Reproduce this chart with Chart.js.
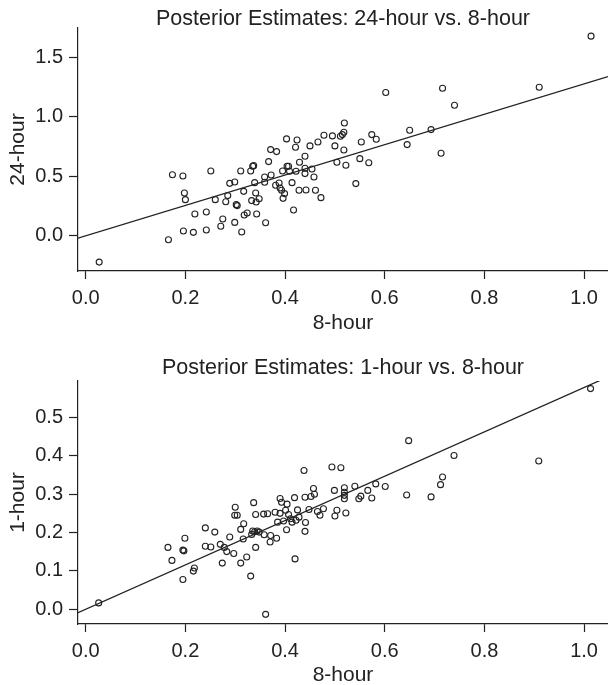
<!DOCTYPE html>
<html><head><meta charset="utf-8">
<script src="https://cdn.jsdelivr.net/npm/chart.js@4.4.1/dist/chart.umd.min.js"></script>
<style>
html,body{margin:0;padding:0;background:#fff;}
#wrap{position:relative;width:608px;height:685px;overflow:hidden;background:#fff;}
canvas{position:absolute;left:0;}
#c1{top:0;}
#c2{top:340px;}
</style></head><body>
<div id="wrap">
<canvas id="c1" width="608" height="345"></canvas>
<canvas id="c2" width="608" height="345"></canvas>
</div>
<script>
// ---- tick labels ----
const xTickValues = [0, 0.2, 0.4, 0.6, 0.8, 1.0];
const yTickValuesTop = [0, 0.5, 1.0, 1.5];
const yTickValuesBottom = [0, 0.1, 0.2, 0.3, 0.4, 0.5];

// ---- texts ----
const titleTop = 'Posterior Estimates: 24-hour vs. 8-hour';
const titleBottom = 'Posterior Estimates: 1-hour vs. 8-hour';
const xLabel = '8-hour';
const yLabelTop = '24-hour';
const yLabelBottom = '1-hour';

// ---- top panel: 8-hour (x) vs 24-hour (y) ----
const eightHourTop = [0.027,0.166,0.174,0.195,0.198,0.200,0.196,0.216,0.219,0.242,0.242,0.251,0.260,0.271,0.275,0.281,0.285,0.289,0.299,0.299,
0.302,0.304,0.311,0.313,0.317,0.318,0.324,0.331,0.335,0.337,0.333,0.341,0.342,0.339,0.348,0.343,0.359,0.359,0.361,0.367,
0.371,0.372,0.383,0.381,0.388,0.390,0.393,0.396,0.399,0.395,0.403,0.404,0.407,0.409,0.414,0.417,0.421,0.424,0.422,0.428,
0.429,0.440,0.440,0.440,0.442,0.450,0.454,0.458,0.461,0.466,0.472,0.478,0.495,0.500,0.504,0.511,0.515,0.518,0.519,0.518,
0.522,0.542,0.550,0.553,0.568,0.574,0.583,0.602,0.645,0.650,0.693,0.713,0.716,0.740,0.910,1.014];
const twentyFourHour = [-0.222,-0.034,0.513,0.502,0.359,0.303,0.039,0.028,0.182,0.199,0.048,0.544,0.303,0.079,0.140,0.286,0.337,0.440,0.452,0.112,
0.261,0.253,0.544,0.031,0.373,0.174,0.191,0.544,0.584,0.589,0.295,0.359,0.283,0.446,0.311,0.182,0.494,0.449,0.109,0.623,
0.724,0.511,0.707,0.424,0.443,0.401,0.382,0.314,0.354,0.544,0.814,0.584,0.584,0.542,0.446,0.216,0.744,0.805,0.542,0.382,
0.617,0.668,0.567,0.522,0.384,0.755,0.561,0.494,0.382,0.788,0.320,0.845,0.839,0.755,0.617,0.836,0.850,0.870,0.948,0.721,
0.592,0.438,0.648,0.788,0.614,0.850,0.811,1.204,0.766,0.887,0.892,0.693,1.240,1.097,1.248,1.678];
const fitTopX = [-0.0155, 1.048];
const fitTopY = [-0.020, 1.337];

// ---- bottom panel: 8-hour (x) vs 1-hour (y) ----
const eightHourBottom = [0.026,0.165,0.173,0.195,0.197,0.199,0.195,0.216,0.218,0.240,0.240,0.251,0.259,0.270,0.274,0.278,0.283,0.289,0.297,0.299,
0.300,0.304,0.311,0.311,0.316,0.317,0.323,0.331,0.333,0.335,0.337,0.339,0.341,0.341,0.344,0.348,0.357,0.358,0.361,0.365,
0.371,0.370,0.380,0.383,0.385,0.390,0.390,0.393,0.397,0.401,0.403,0.404,0.407,0.411,0.414,0.419,0.420,0.422,0.425,0.428,
0.438,0.440,0.440,0.441,0.448,0.452,0.457,0.459,0.465,0.470,0.477,0.494,0.499,0.500,0.504,0.512,0.522,0.519,0.519,0.519,
0.519,0.540,0.548,0.552,0.566,0.574,0.582,0.601,0.644,0.648,0.693,0.712,0.716,0.739,0.909,1.013];
const oneHour = [0.016,0.161,0.127,0.154,0.152,0.185,0.077,0.099,0.107,0.212,0.164,0.162,0.201,0.169,0.120,0.161,0.150,0.188,0.145,0.245,
0.266,0.245,0.120,0.208,0.183,0.223,0.136,0.086,0.195,0.204,0.278,0.202,0.247,0.161,0.204,0.201,0.248,0.194,-0.014,0.249,
0.192,0.175,0.253,0.185,0.227,0.250,0.289,0.279,0.230,0.258,0.207,0.274,0.247,0.236,0.227,0.291,0.131,0.232,0.259,0.240,
0.362,0.292,0.203,0.226,0.260,0.294,0.315,0.300,0.255,0.245,0.262,0.371,0.310,0.243,0.258,0.369,0.251,0.317,0.305,0.297,
0.288,0.321,0.288,0.295,0.310,0.290,0.327,0.320,0.298,0.440,0.293,0.325,0.345,0.401,0.387,0.576];
const fitBottomX = [-0.0155, 1.033];
const fitBottomY = [-0.0097, 0.598];

const FONT = "'Liberation Sans', Arial, Helvetica, sans-serif";
const INK = '#222222';

function pairs(xs, ys) { return xs.map((x, i) => ({x: x, y: ys[i]})); }

function makeChart(id, o) {
  return new Chart(document.getElementById(id), {
    type: 'scatter',
    data: {
      datasets: [
        {
          data: pairs(o.xs, o.ys),
          pointStyle: 'circle',
          pointRadius: 3,
          pointHoverRadius: 3,
          borderWidth: 1.1,
          borderColor: INK,
          backgroundColor: 'rgba(0,0,0,0)',
          showLine: false
        },
        {
          data: pairs(o.fx, o.fy),
          showLine: true,
          pointRadius: 0,
          pointHoverRadius: 0,
          borderColor: INK,
          borderWidth: 1.3,
          fill: false
        }
      ]
    },
    options: {
      responsive: false,
      animation: false,
      devicePixelRatio: 1,
      events: [],
      layout: { padding: 0, autoPadding: false },
      plugins: {
        legend: { display: false },
        tooltip: { enabled: false },
        title: {
          display: true,
          text: o.title,
          color: INK,
          fullSize: false,
          font: { family: FONT, size: 21.5, weight: 'normal', lineHeight: 0.8 },
          padding: { top: o.titlePadTop, bottom: o.titlePadBottom }
        }
      },
      scales: {
        x: {
          type: 'linear',
          position: 'bottom',
          min: -0.0155,
          max: 1.048,
          afterBuildTicks: s => { s.ticks = xTickValues.map(v => ({ value: v })); },
          afterFit: s => { s.height = o.xHeight; s.paddingLeft = 0; s.paddingRight = 0; },
          ticks: {
            autoSkip: false, maxRotation: 0, minRotation: 0,
            padding: o.xTickPad, color: INK,
            font: { family: FONT, size: 20 },
            callback: v => Number(v).toFixed(1)
          },
          grid: { display: true, drawOnChartArea: false, drawTicks: true, tickLength: 8, tickColor: INK, tickWidth: 1.2, color: INK },
          border: { display: true, color: INK, width: 1.2 },
          title: {
            display: true, text: xLabel, color: INK,
            font: { family: FONT, size: 21, weight: 'normal', lineHeight: 0.9 },
            padding: { top: 0, bottom: o.xTitlePadBottom }
          }
        },
        y: {
          type: 'linear',
          position: 'left',
          min: o.ymin,
          max: o.ymax,
          afterBuildTicks: s => { s.ticks = o.yTicks.map(v => ({ value: v })); },
          afterFit: s => { s.width = 78; s.paddingTop = 0; s.paddingBottom = 0; },
          ticks: {
            autoSkip: false, padding: 6, color: INK,
            font: { family: FONT, size: 20 },
            callback: v => Number(v).toFixed(1)
          },
          grid: { display: true, drawOnChartArea: false, drawTicks: true, tickLength: 9, tickColor: INK, tickWidth: 1.2, color: INK },
          border: { display: true, color: INK, width: 1.2 },
          title: {
            display: true, text: o.yLabel, color: INK,
            font: { family: FONT, size: 21, weight: 'normal', lineHeight: 0.9 },
            padding: { top: 9.2, bottom: 0 }
          }
        }
      }
    }
  });
}

makeChart('c1', {
  xs: eightHourTop, ys: twentyFourHour, fx: fitTopX, fy: fitTopY,
  title: titleTop, yLabel: yLabelTop, yTicks: yTickValuesTop,
  ymin: -0.2968, ymax: 1.7464,
  titlePadTop: 10.4, titlePadBottom: 0.4,
  xHeight: 74, xTickPad: 7.5, xTitlePadBottom: 12.5
});

makeChart('c2', {
  xs: eightHourBottom, ys: oneHour, fx: fitBottomX, fy: fitBottomY,
  title: titleBottom, yLabel: yLabelBottom, yTicks: yTickValuesBottom,
  ymin: -0.0392, ymax: 0.5959,
  titlePadTop: 19.9, titlePadBottom: 3.9,
  xHeight: 61, xTickPad: 7, xTitlePadBottom: 0.6
});
</script>
</body></html>
